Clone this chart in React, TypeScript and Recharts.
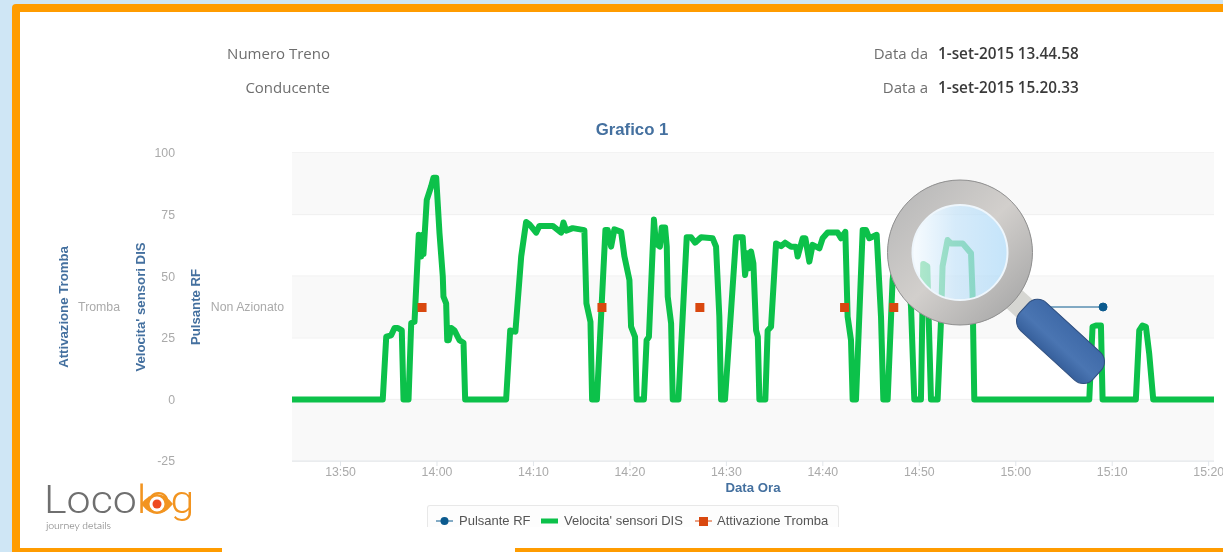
import {
  ComposedChart,
  Line,
  Scatter,
  XAxis,
  YAxis,
  CartesianGrid,
  ReferenceArea,
} from "recharts";

// minutes after 13:00
const speedMinutes = [
  44.97, 54.38, 54.74, 55.25, 55.6, 55.94, 56.35, 56.53, 57.05, 57.33, 57.67, 58.11, 58.36, 58.53, 58.6,
  58.94, 59.4, 59.64, 59.92, 60.26, 60.6, 60.67, 60.95, 61.06, 61.22, 61.47, 61.81, 62.33, 62.75, 62.92,
  67.17, 67.59, 68.13, 68.73, 69.24, 69.59, 70.28, 70.62, 72.0, 72.87, 73.11, 73.39, 74.07, 75.28, 75.49,
  75.91, 76.08, 76.58, 77.46, 77.7, 78.05, 78.39, 79.09, 79.43, 79.95, 80.12, 80.53, 80.7, 81.45, 81.73,
  81.97, 82.49, 82.69, 83.11, 83.3, 83.65, 83.82, 83.92, 84.27, 84.44, 85.03, 85.89, 86.34, 86.76, 87.38,
  88.58, 88.93, 89.27, 89.45, 89.86, 91.0, 91.69, 91.94, 92.21, 92.38, 92.56, 92.8, 93.08, 93.26, 93.42,
  94.04, 94.28, 94.63, 95.15, 95.67, 96.09, 96.71, 97.22, 97.39, 97.91, 98.19, 98.6, 98.94, 99.64, 99.98,
  100.5, 101.53, 101.88, 102.33, 102.57, 102.92, 103.09, 103.44, 104.13, 104.48, 104.82, 105.58, 106.03,
  106.27, 106.72, 107.23, 107.82, 108.45, 109.14, 109.48, 110.17, 110.31, 110.41, 110.83, 110.98, 111.21,
  111.9, 112.25, 112.41, 112.93, 113.28, 114.49, 115.36, 115.52, 115.7, 127.62, 127.96, 128.31, 128.83,
  129.0, 132.45, 132.8, 133.14, 133.49, 133.83, 134.25, 140.55,
];
const speedValues = [
  0, 0, 25.5, 26, 29, 29, 28, 0, 0, 31, 31.5, 66.8, 58, 66.8, 59,
  81, 86.5, 90, 90, 67.5, 50, 41.7, 39, 24, 24, 29, 28, 24, 23, 0,
  0, 28, 27.5, 58, 72, 71, 67.7, 70.4, 70.4, 67.7, 71.8, 68.5, 69.5, 68.7, 39,
  31.5, 0, 0, 68.7, 68.7, 62, 69, 68, 58, 48.4, 29.5, 25.4, 0, 0, 24,
  25.4, 73, 63.3, 62, 69.8, 69.8, 62, 41.7, 30.9, 0, 0, 65.8, 65.8, 63.6, 65.8,
  65.4, 62, 33.6, 0, 0, 65.8, 65.8, 50.5, 59.3, 53.2, 60, 55.2, 28, 25.4, 0,
  0, 28, 29.5, 63.3, 62.2, 63.6, 62, 62, 58, 65.4, 65.4, 55.9, 62.7, 61.3, 65.4,
  67.7, 67.7, 65.4, 68, 33.6, 24, 0, 0, 68.7, 68.7, 65.4, 66.8, 33.6,
  0, 0, 48.4, 68, 68, 37.6, 0, 0, 33, 55, 54, 32, 0,
  0, 32, 54, 64.7, 63.3, 63.3, 59.3, 43, 0, 0, 29.5, 30, 30,
  0, 0, 28, 30, 29.5, 18.7, 0, 0,
];

const rfMinutes = [118.3, 129.05];
const hornMinutes = [58.4, 77.05, 87.2, 102.2, 107.3];
const STATE_LEVEL = 37.5;

const speedTicks = [-25, 0, 25, 50, 75, 100];
const timeTicks = [50, 60, 70, 80, 90, 100, 110, 120, 130, 140];
const bands: [number, number][] = [[75, 100], [25, 50], [-25, 0]];

const speedData = speedMinutes.map((t, i) => ({ t, v: speedValues[i] }));
const rfData = rfMinutes.map((t) => ({ t, v: STATE_LEVEL }));
const hornData = hornMinutes.map((t) => ({ t, v: STATE_LEVEL }));

// left axes are stacked outward from the plot in id order
const RF_AXIS = "a-rf";
const SPEED_AXIS = "b-speed";
const HORN_AXIS = "c-horn";

const SANS = "'Liberation Sans', Arial, sans-serif";
const HEADER = "'Open Sans', sans-serif";
const GREEN = "#0cc14a";
const RF_BLUE = "#0b5a8e";
const HORN_RED = "#d9480f";
const TITLE_BLUE = "#44709f";
const LOGO_ORANGE = "#f29420";

const tickStyle = { fontSize: 12.3, fill: "#aaaaaa", stroke: "none", fontFamily: SANS };
const titleStyle = { fontSize: 13.2, fontWeight: 700, fill: TITLE_BLUE, fontFamily: SANS };

const formatTime = (t: number) => {
  const h = 13 + Math.floor(t / 60);
  const m = t % 60;
  return `${h}:${String(m).padStart(2, "0")}`;
};

const axisTitle = (value: string, offset: number) => ({
  value,
  angle: -90,
  position: "insideLeft" as const,
  offset,
  textAnchor: "middle",
  style: titleStyle,
});

function HornSquare(props: any) {
  return <rect x={props.cx - 4} y={props.cy - 4} width={9} height={9} fill={HORN_RED} />;
}

function Magnifier() {
  return (
    <svg width={1223} height={552} style={{ position: "absolute", left: 0, top: 0, pointerEvents: "none" }}>
      <defs>
        <linearGradient id="lens" x1="0" y1="0" x2="1" y2="0">
          <stop offset="0" stopColor="#f4fafe" />
          <stop offset="0.45" stopColor="#c6e3f8" />
          <stop offset="1" stopColor="#aedaf8" />
        </linearGradient>
        <linearGradient id="ring" x1="0" y1="0" x2="1" y2="1">
          <stop offset="0" stopColor="#b9b9b9" />
          <stop offset="0.5" stopColor="#d2cfcc" />
          <stop offset="1" stopColor="#a8a8a8" />
        </linearGradient>
        <linearGradient id="grip" x1="0" y1="0" x2="0" y2="1">
          <stop offset="0" stopColor="#3f6aa8" />
          <stop offset="0.6" stopColor="#4a75b2" />
          <stop offset="1" stopColor="#37609c" />
        </linearGradient>
      </defs>
      <g transform="rotate(42.5 1024 308)">
        <rect x={1004} y={296} width={22} height={24} fill="#d6d6d2" />
        <rect x={1024} y={289} width={99} height={38} rx={13} fill="url(#grip)" stroke="#2f4f7f" strokeWidth={1} />
      </g>
      <circle cx={960} cy={252.5} r={60} fill="none" stroke="url(#ring)" strokeWidth={25} />
      <circle cx={960} cy={252.5} r={72.5} fill="none" stroke="#8f8f8f" strokeWidth={1} />
      <circle cx={960} cy={252.5} r={47.5} fill="url(#lens)" fillOpacity={0.72} stroke="#eef6fc" strokeWidth={2} />
    </svg>
  );
}

function Frame() {
  return (
    <>
      <div style={{ position: "absolute", left: 0, top: 0, width: 1223, height: 552, background: "#cfe6f5" }} />
      <div style={{ position: "absolute", left: 12, top: 4, width: 1211, height: 548, background: "#ff9c00", borderRadius: "4px 0 0 0" }} />
      <div style={{ position: "absolute", left: 20, top: 12, width: 1203, height: 536, background: "#fff" }} />
      <div style={{ position: "absolute", left: 222, top: 548, width: 293, height: 4, background: "#fff" }} />
    </>
  );
}

function HeaderRow({ right, top, label, value }: { right: number; top: number; label: string; value?: string }) {
  return (
    <>
      <span style={{ position: "absolute", right: 1223 - right, top, fontFamily: HEADER, fontSize: 15, color: "#6e6e6e", whiteSpace: "nowrap" }}>
        {label}
      </span>
      {value && (
        <span style={{ position: "absolute", left: right + 10, top, fontFamily: HEADER, fontSize: 15.3, fontWeight: 600, color: "#3a3a3a", whiteSpace: "nowrap" }}>
          {value}
        </span>
      )}
    </>
  );
}

function ChartLegend() {
  const text = { fontFamily: SANS, fontSize: 13, color: "#555", whiteSpace: "nowrap" as const };
  return (
    <div style={{ position: "absolute", left: 427, top: 505, width: 412, height: 22, overflow: "hidden", boxSizing: "border-box", border: "1px solid #e8e8e8", borderBottom: "none", borderRadius: "3px 3px 0 0", background: "#fdfdfd" }}>
      <svg width={412} height={22} style={{ position: "absolute", left: 0, top: 0 }}>
        <line x1={8} x2={25} y1={15} y2={15} stroke={RF_BLUE} />
        <circle cx={16.5} cy={15} r={4} fill={RF_BLUE} />
        <line x1={113} x2={130} y1={15} y2={15} stroke={GREEN} strokeWidth={5} />
        <line x1={267} x2={284} y1={15} y2={15} stroke={HORN_RED} />
        <rect x={271} y={11} width={9} height={9} fill={HORN_RED} />
      </svg>
      <span style={{ ...text, position: "absolute", left: 31, top: 7 }}>Pulsante RF</span>
      <span style={{ ...text, position: "absolute", left: 136, top: 7 }}>Velocita' sensori DIS</span>
      <span style={{ ...text, position: "absolute", left: 289, top: 7 }}>Attivazione Tromba</span>
    </div>
  );
}

function Logo() {
  return (
    <>
      <div style={{ position: "absolute", left: 44, top: 484, height: 32, lineHeight: "32px", whiteSpace: "nowrap", fontFamily: "Roboto, sans-serif", fontWeight: 300, fontSize: 39, transform: "scaleX(1.1)", transformOrigin: "0 0" }}>
        <span style={{ color: "#6f6f6f" }}>Loco</span>
        <span style={{ color: LOGO_ORANGE }}>log</span>
      </div>
      <svg width={40} height={30} style={{ position: "absolute", left: 139, top: 490 }}>
        <path d="M2 14 Q18 -6 34 14 Q18 34 2 14 Z" fill={LOGO_ORANGE} />
        <circle cx={18} cy={14} r={7.5} fill="#fff" />
        <circle cx={18} cy={14} r={4.5} fill="#ee4b22" />
      </svg>
      <div style={{ position: "absolute", left: 46, top: 519, lineHeight: "12px", fontFamily: "Lato, sans-serif", fontWeight: 300, fontSize: 10.4, color: "#666", whiteSpace: "nowrap" }}>
        journey details
      </div>
    </>
  );
}

export default function App() {
  return (
    <div style={{ position: "absolute", left: 0, top: 0, width: 1223, height: 552, overflow: "hidden", filter: "blur(0.45px)" }}>
      <Frame />
      <HeaderRow right={330} top={43} label="Numero Treno" />
      <HeaderRow right={330} top={77} label="Conducente" />
      <HeaderRow right={928} top={43} label="Data da" value="1-set-2015 13.44.58" />
      <HeaderRow right={928} top={77} label="Data a" value="1-set-2015 15.20.33" />
      <div style={{ position: "absolute", left: 532, width: 200, top: 120, textAlign: "center", fontFamily: SANS, fontSize: 16.8, fontWeight: 700, color: TITLE_BLUE }}>
        Grafico 1
      </div>

      <div style={{ position: "absolute", left: 0, top: 0 }}>
        <ComposedChart width={1223} height={552} margin={{ top: 153, right: 9, bottom: 65, left: 56 }}>
          <CartesianGrid yAxisId={SPEED_AXIS} vertical={false} stroke="#e6e6e6" syncWithTicks />
          <XAxis
            dataKey="t"
            type="number"
            domain={[44.97, 140.55]}
            ticks={timeTicks}
            interval={0}
            tickFormatter={formatTime}
            allowDataOverflow
            height={26}
            tick={tickStyle}
            tickSize={5}
            tickMargin={1}
            stroke="#e2e6ea"
          />
          <YAxis
            yAxisId={HORN_AXIS}
            width={76}
            domain={[-25, 100]}
            ticks={[STATE_LEVEL]}
            tickFormatter={() => "Tromba"}
            axisLine={false}
            tickLine={false}
            tickSize={0}
            tickMargin={12}
            tick={tickStyle}
            label={axisTitle("Attivazione Tromba", 7)}
          />
          <YAxis
            yAxisId={SPEED_AXIS}
            width={56}
            domain={[-25, 100]}
            ticks={speedTicks}
            axisLine={false}
            tickLine={false}
            tickSize={0}
            tickMargin={13}
            tick={tickStyle}
            label={axisTitle("Velocita' sensori DIS", 8)}
          />
          <YAxis
            yAxisId={RF_AXIS}
            width={104}
            domain={[-25, 100]}
            ticks={[STATE_LEVEL]}
            tickFormatter={() => "Non Azionato"}
            axisLine={false}
            tickLine={false}
            tickSize={0}
            tickMargin={8}
            tick={tickStyle}
            label={axisTitle("Pulsante RF", 7)}
          />
          {bands.map(([y1, y2]) => (
            <ReferenceArea key={y1} yAxisId={SPEED_AXIS} y1={y1} y2={y2} fill="#f9f9f9" fillOpacity={1} stroke="none" />
          ))}
          <Line
            yAxisId={SPEED_AXIS}
            data={speedData}
            dataKey="v"
            type="linear"
            stroke={GREEN}
            strokeWidth={6}
            strokeLinejoin="round"
            dot={false}
            isAnimationActive={false}
          />
          <Line
            yAxisId={RF_AXIS}
            data={rfData}
            dataKey="v"
            type="linear"
            stroke={RF_BLUE}
            strokeWidth={1}
            dot={{ r: 4, fill: RF_BLUE, stroke: RF_BLUE }}
            isAnimationActive={false}
          />
          <Scatter
            yAxisId={HORN_AXIS}
            data={hornData}
            dataKey="v"
            shape={HornSquare}
            isAnimationActive={false}
          />
        </ComposedChart>
      </div>

      <div style={{ position: "absolute", left: 653, width: 200, top: 480, textAlign: "center", fontFamily: SANS, fontSize: 13.2, fontWeight: 700, color: TITLE_BLUE }}>
        Data Ora
      </div>
      <ChartLegend />
      <Logo />
      <Magnifier />
    </div>
  );
}
